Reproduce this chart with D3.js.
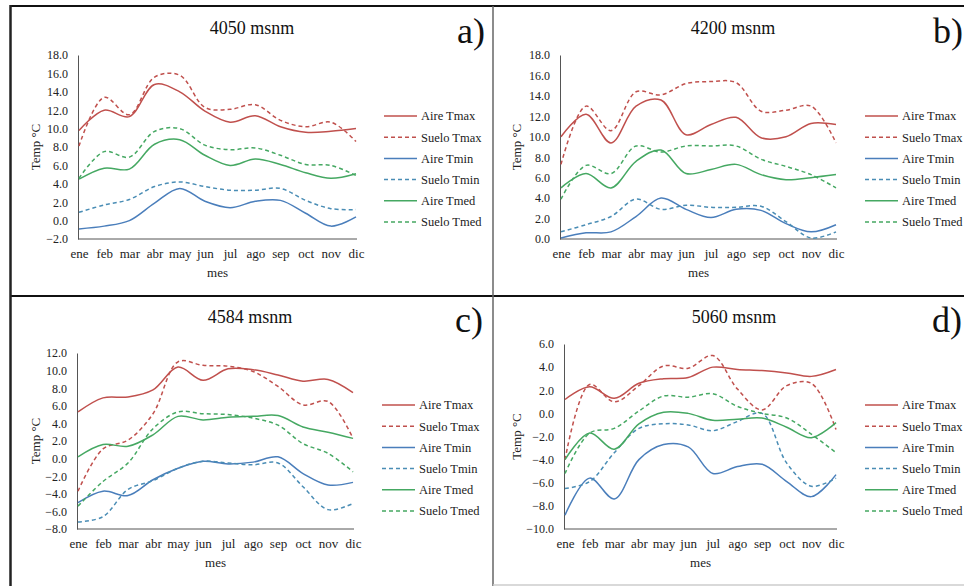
<!DOCTYPE html>
<html>
<head>
<meta charset="utf-8">
<script src="https://cdn.jsdelivr.net/npm/d3@7"></script>
<style>
    body { margin: 0; background: #fff; }
    svg, svg text { font-family: "Liberation Serif", "Times New Roman", "DejaVu Serif", serif; }
</style>
</head>
<body>
<div class="canvas"></div>
<script>
//categories and series names
const months = ['ene', 'feb', 'mar', 'abr', 'may', 'jun', 'jul', 'ago', 'sep', 'oct', 'nov', 'dic'];
const seriesNames = ['Aire Tmax', 'Suelo Tmax', 'Aire Tmin', 'Suelo Tmin', 'Aire Tmed', 'Suelo Tmed'];

//4050 msnm
const aireTmax4050 = [9.8, 12.0, 11.3, 14.8, 14.0, 11.9, 10.7, 11.4, 10.2, 9.6, 9.7, 10.0];
const sueloTmax4050 = [8.1, 13.4, 11.5, 15.6, 15.8, 12.3, 12.1, 12.6, 10.9, 10.2, 10.7, 8.6];
const aireTmin4050 = [-0.9, -0.6, 0.0, 1.9, 3.5, 2.1, 1.4, 2.1, 2.2, 0.8, -0.6, 0.4];
const sueloTmin4050 = [0.9, 1.7, 2.3, 3.7, 4.2, 3.7, 3.3, 3.3, 3.5, 2.2, 1.3, 1.2];
const aireTmed4050 = [4.5, 5.7, 5.6, 8.3, 8.8, 7.1, 6.0, 6.7, 6.1, 5.2, 4.6, 5.1];
const sueloTmed4050 = [4.6, 7.5, 6.9, 9.7, 10.0, 8.2, 7.7, 7.9, 7.1, 6.1, 6.0, 4.9];

//4200 msnm
const aireTmax4200 = [10.0, 12.2, 9.4, 13.0, 13.6, 10.2, 11.2, 11.9, 9.9, 10.0, 11.3, 11.2];
const sueloTmax4200 = [7.3, 13.0, 10.6, 14.4, 14.1, 15.2, 15.4, 15.3, 12.5, 12.6, 13.0, 9.4];
const aireTmin4200 = [0.1, 0.6, 0.7, 2.2, 4.0, 2.9, 2.1, 2.9, 2.8, 1.5, 0.7, 1.4];
const sueloTmin4200 = [0.7, 1.4, 2.2, 3.9, 2.9, 3.3, 3.1, 3.1, 3.2, 1.7, 0.1, 0.7];
const aireTmed4200 = [5.0, 6.4, 5.0, 7.6, 8.7, 6.4, 6.8, 7.3, 6.3, 5.8, 6.0, 6.3];
const sueloTmed4200 = [3.9, 7.2, 6.4, 9.1, 8.5, 9.1, 9.1, 9.1, 7.8, 7.1, 6.3, 5.0];

//4584 msnm
const aireTmax4584 = [5.3, 6.9, 7.0, 7.8, 10.4, 8.9, 10.2, 10.1, 9.5, 8.8, 9.0, 7.5];
const sueloTmax4584 = [-3.7, 1.1, 2.1, 5.1, 11.0, 10.6, 10.5, 9.9, 8.2, 6.1, 6.5, 2.3];
const aireTmin4584 = [-5.0, -3.7, -4.2, -2.4, -1.1, -0.3, -0.6, -0.4, 0.2, -1.7, -3.0, -2.7];
const sueloTmin4584 = [-7.2, -6.6, -3.5, -2.5, -1.1, -0.3, -0.5, -0.7, -0.5, -3.2, -5.8, -5.1];
const aireTmed4584 = [0.2, 1.6, 1.4, 2.7, 4.8, 4.4, 4.7, 4.8, 4.9, 3.6, 3.0, 2.3];
const sueloTmed4584 = [-5.4, -2.6, -0.5, 3.4, 5.3, 5.1, 5.0, 4.6, 3.8, 1.7, 0.6, -1.5];

//5060 msnm
const aireTmax5060 = [1.2, 2.3, 1.3, 2.6, 3.0, 3.1, 4.0, 3.8, 3.7, 3.5, 3.2, 3.8];
const sueloTmax5060 = [-4.0, 2.5, 1.0, 2.4, 4.1, 3.9, 5.0, 2.1, 0.3, 2.4, 2.6, -1.4];
const aireTmin5060 = [-8.8, -5.6, -7.4, -4.0, -2.7, -2.9, -5.2, -4.6, -4.4, -5.9, -7.2, -5.3];
const sueloTmin5060 = [-6.5, -5.9, -3.4, -1.3, -0.9, -1.0, -1.5, -0.7, 0.0, -4.3, -6.3, -5.6];
const aireTmed5060 = [-4.0, -1.7, -3.1, -0.9, 0.1, 0.0, -0.6, -0.5, -0.4, -1.2, -2.1, -0.8];
const sueloTmed5060 = [-5.2, -1.7, -1.3, 0.2, 1.5, 1.4, 1.7, 0.6, 0.0, -0.4, -1.8, -3.4];

//y axis ranges per panel
const yDomain4050 = [-2, 18];
const yDomain4200 = [0, 18];
const yDomain4584 = [-8, 12];
const yDomain5060 = [-10, 6];

//line styles for the six series
const lineColors = ['#c0504d', '#c0504d', '#4a7ebb', '#4a8db5', '#45a862', '#45a862'];
const lineDashes = [null, '4,3', null, '4,3', null, '4,3'];

const serif = '"Liberation Serif", "Times New Roman", "DejaVu Serif", serif';

//panel layout (plot box, title, legend)
const panels = [
    { title: '4050 msnm', tag: 'a)', domain: yDomain4050,
      data: [aireTmax4050, sueloTmax4050, aireTmin4050, sueloTmin4050, aireTmed4050, sueloTmed4050],
      x0: 78, x1: 357, y0: 55, y1: 239, titleX: 252, titleY: 34, tagX: 457, tagY: 43,
      legX: 384, legY: 116, ylabX: 36 },
    { title: '4200 msnm', tag: 'b)', domain: yDomain4200,
      data: [aireTmax4200, sueloTmax4200, aireTmin4200, sueloTmin4200, aireTmed4200, sueloTmed4200],
      x0: 560, x1: 837, y0: 55, y1: 239, titleX: 733, titleY: 34, tagX: 933, tagY: 43,
      legX: 865, legY: 116, ylabX: 517 },
    { title: '4584 msnm', tag: 'c)', domain: yDomain4584,
      data: [aireTmax4584, sueloTmax4584, aireTmin4584, sueloTmin4584, aireTmed4584, sueloTmed4584],
      x0: 77, x1: 354, y0: 353, y1: 529, titleX: 250, titleY: 323, tagX: 455, tagY: 332,
      legX: 382, legY: 405, ylabX: 36 },
    { title: '5060 msnm', tag: 'd)', domain: yDomain5060,
      data: [aireTmax5060, sueloTmax5060, aireTmin5060, sueloTmin5060, aireTmed5060, sueloTmed5060],
      x0: 564, x1: 837, y0: 344, y1: 529, titleX: 734, titleY: 323, tagX: 932, tagY: 332,
      legX: 865, legY: 405, ylabX: 517 }
];

//create svg container
const svg = d3.select('.canvas')
    .append('svg')
    .attr('width', 964)
    .attr('height', 586)
    .attr('font-family', serif);

svg.append('rect')
    .attr('width', 964)
    .attr('height', 586)
    .attr('fill', '#fff');

//frame lines between the four panels
const frame = svg.append('g');
frame.append('line').attr('x1', 10).attr('x2', 964).attr('y1', 6).attr('y2', 6)
    .attr('stroke', '#111').attr('stroke-width', 2);
frame.append('line').attr('x1', 10).attr('x2', 964).attr('y1', 296).attr('y2', 296)
    .attr('stroke', '#111').attr('stroke-width', 2);
frame.append('line').attr('x1', 10.5).attr('x2', 10.5).attr('y1', 5).attr('y2', 586)
    .attr('stroke', '#222').attr('stroke-width', 2.5);
frame.append('line').attr('x1', 493).attr('x2', 493).attr('y1', 6).attr('y2', 586)
    .attr('stroke', '#666').attr('stroke-width', 1.5);
frame.append('line').attr('x1', 493).attr('x2', 964).attr('y1', 585).attr('y2', 585)
    .attr('stroke', '#ccc').attr('stroke-width', 1.5);

//draw one panel
const drawPanel = (p) => {

    const g = svg.append('g');

    const x = d3.scalePoint()
        .domain(months)
        .range([p.x0 + 1, p.x1 - 1]);

    const y = d3.scaleLinear()
        .domain(p.domain)
        .range([p.y1, p.y0]);

    //y axis
    const yAxis = d3.axisLeft(y)
        .tickValues(d3.range(p.domain[0], p.domain[1] + 0.01, 2))
        .tickFormat(d3.format('.1f'))
        .tickSize(0)
        .tickPadding(10);

    const yg = g.append('g')
        .attr('transform', `translate(${p.x0}, 0)`)
        .call(yAxis)
        .attr('font-family', serif);
    yg.select('.domain').attr('stroke', '#555');
    yg.selectAll('text')
        .attr('font-size', 12)
        .attr('fill', '#222');

    //x axis
    const xAxis = d3.axisBottom(x)
        .tickSize(0)
        .tickPadding(10);

    const xg = g.append('g')
        .attr('transform', `translate(0, ${p.y1})`)
        .call(xAxis)
        .attr('font-family', serif);
    xg.select('.domain')
        .attr('d', `M${p.x0},0H${p.x1}`)
        .attr('stroke', '#555');
    xg.selectAll('text')
        .attr('font-size', 13)
        .attr('fill', '#222');

    //axis titles
    g.append('text')
        .attr('x', (p.x0 + p.x1) / 2)
        .attr('y', p.y1 + 38)
        .attr('text-anchor', 'middle')
        .attr('font-size', 13)
        .attr('fill', '#222')
        .text('mes');

    g.append('text')
        .attr('transform', `translate(${p.ylabX + 4}, ${(p.y0 + p.y1) / 2}) rotate(-90)`)
        .attr('text-anchor', 'middle')
        .attr('font-size', 13)
        .attr('fill', '#222')
        .text('Temp °C');

    //chart title and panel tag
    g.append('text')
        .attr('x', p.titleX)
        .attr('y', p.titleY)
        .attr('text-anchor', 'middle')
        .attr('font-size', 18)
        .attr('fill', '#111')
        .text(p.title);

    g.append('text')
        .attr('x', p.tagX)
        .attr('y', p.tagY)
        .attr('font-size', 36)
        .attr('fill', '#111')
        .text(p.tag);

    //smoothed lines like excel
    const line = d3.line()
        .x((d, i) => x(months[i]))
        .y(d => y(d))
        .curve(d3.curveCatmullRom.alpha(0.5));

    g.selectAll('path.series')
        .data(p.data)
        .enter()
        .append('path')
            .attr('class', 'series')
            .attr('d', line)
            .attr('fill', 'none')
            .attr('stroke', (d, i) => lineColors[i])
            .attr('stroke-width', 1.5)
            .attr('stroke-dasharray', (d, i) => lineDashes[i]);

    //legend
    const leg = g.append('g')
        .attr('transform', `translate(${p.legX}, ${p.legY})`);

    const items = leg.selectAll('g')
        .data(seriesNames)
        .enter()
        .append('g')
            .attr('transform', (d, i) => `translate(0, ${i * 21.2})`);

    items.append('line')
        .attr('x1', 0)
        .attr('x2', 33)
        .attr('stroke', (d, i) => lineColors[i])
        .attr('stroke-width', 1.5)
        .attr('stroke-dasharray', (d, i) => lineDashes[i]);

    items.append('text')
        .attr('x', 37)
        .attr('dy', '0.35em')
        .attr('font-size', 12.5)
        .attr('fill', '#222')
        .text(d => d);
};

panels.forEach(drawPanel);
</script>
</body>
</html>
